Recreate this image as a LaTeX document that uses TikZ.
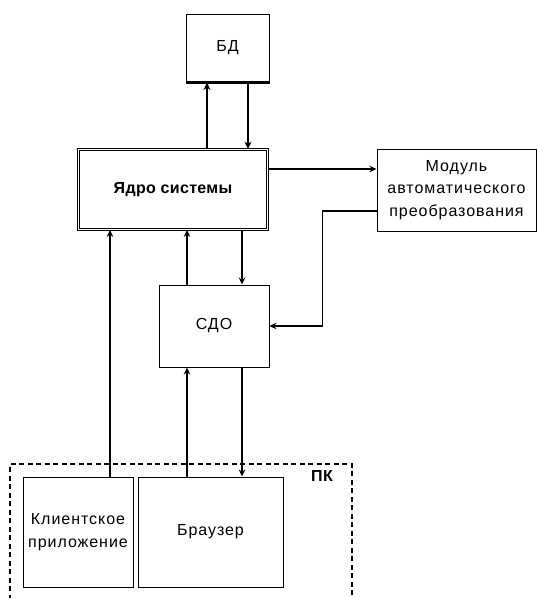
\documentclass[tikz,border=0pt]{standalone}
\usepackage{fontspec}
\setmainfont{Liberation Sans}[LetterSpace=6]
\newfontfamily\boldsp{Liberation Sans Bold}[LetterSpace=2]
\usetikzlibrary{arrows.meta}
\begin{document}
\begin{tikzpicture}[x=1pt,y=-1pt,
  box/.style={draw,line width=1pt,inner sep=0pt,align=center,font=\fontsize{16}{22.5}\selectfont},
  arr/.style={line width=1.4pt,-{Stealth[length=7pt,width=6.5pt]}},
  arrb/.style={line width=2pt,-{Stealth[length=7.5pt,width=7pt]}}]
\useasboundingbox (0,0) rectangle (537,598);
\clip (0,0) rectangle (537,598);
\node[box,minimum width=83pt,minimum height=68pt] (bd) at (227.5,48) {БД};
\draw[line width=2.2pt] (bd.south west) -- (bd.south east);
\node[box,double,double distance=1.8pt,line width=0.8pt,minimum width=189pt,minimum height=80pt,font=\fontsize{16}{22}\boldsp] (yadro) at (173,189.5) {Ядро системы};
\node[box,minimum width=159pt,minimum height=82pt] (modul) at (456.5,190) {Модуль\\автоматического\\преобразования};
\node[box,minimum width=110pt,minimum height=82pt] (sdo) at (214,326) {СДО};
\node[box,minimum width=110pt,minimum height=110pt] (client) at (78,532) {Клиентское\\приложение};
\node[box,minimum width=145pt,minimum height=110pt] (browser) at (210.5,532) {Браузер};
\node[draw,line width=1.4pt,dash pattern=on 5pt off 3.5pt,minimum width=342pt,minimum height=146pt,inner sep=0pt] (pk) at (181,537) {};
\node[font=\fontsize{16}{18}\boldsp] (pklabel) at (322,476) {ПК};
% connectors
\draw[arrb] ([xshift=-20.5pt]yadro.north -| bd.south) -- ([xshift=-20.5pt]bd.south);
\draw[arrb] ([xshift=20.5pt]bd.south) -- ([xshift=20.5pt]bd.south |- yadro.north);
\draw[arr] ([yshift=20.5pt]yadro.east) -- ([yshift=20.5pt]yadro.east -| modul.west);
\draw[arr] ([yshift=-21pt]modul.west) -- ++(-54,0) |- (sdo.east);
\draw[arr] ([xshift=-27pt]sdo.north) -- ([xshift=-27pt]sdo.north |- yadro.south);
\draw[arr] ([xshift=28pt]sdo.north |- yadro.south) -- ([xshift=28pt]sdo.north);
\draw[arr] ([xshift=32pt]client.north) -- ([xshift=32pt]client.north |- yadro.south);
\draw[arr] ([xshift=-23.5pt]browser.north) -- ([xshift=-23.5pt]browser.north |- sdo.south);
\draw[arr] ([xshift=28pt]sdo.south) -- ([xshift=28pt]sdo.south |- browser.north);
\end{tikzpicture}
\end{document}
